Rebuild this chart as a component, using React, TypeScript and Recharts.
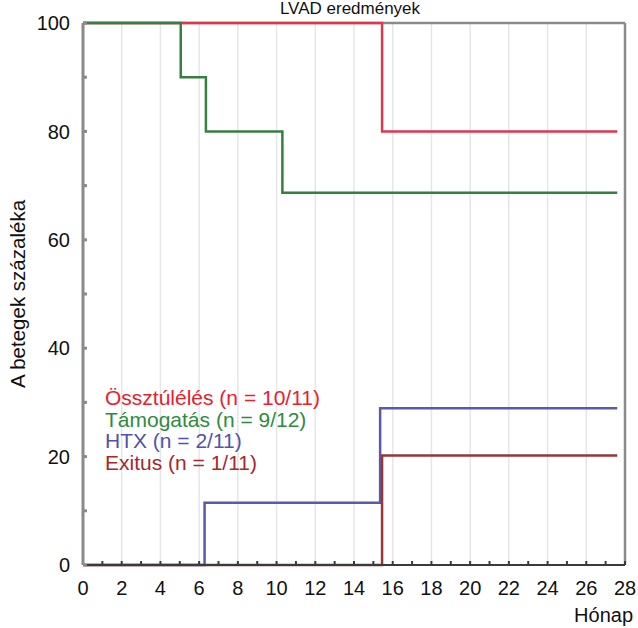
import React from 'react';
import { LineChart, Line, XAxis, YAxis, ReferenceLine } from 'recharts';

// Kaplan-Meier style step data (month, percent)
const survival = [
  { month: 0, value: 100 },
  { month: 15.45, value: 80 },
  { month: 27.6, value: 80 },
];
const support = [
  { month: 0, value: 100 },
  { month: 5.05, value: 90 },
  { month: 6.35, value: 80 },
  { month: 10.3, value: 68.7 },
  { month: 27.6, value: 68.7 },
];
const htx = [
  { month: 0, value: 0 },
  { month: 6.28, value: 11.5 },
  { month: 15.35, value: 28.9 },
  { month: 27.6, value: 28.9 },
];
const exitus = [
  { month: 0, value: 0 },
  { month: 15.45, value: 20.2 },
  { month: 27.6, value: 20.2 },
];

const xTicks = Array.from({ length: 29 }, (_, i) => i);
const yTicks = [0, 10, 20, 30, 40, 50, 60, 70, 80, 90, 100];
const gridX = [2, 4, 6, 8, 10, 12, 14, 16, 18, 20, 22, 24, 26];

const legend = [
  { label: 'Össztúlélés (n = 10/11)', color: '#e8202e' },
  { label: 'Támogatás (n = 9/12)', color: '#2e8b3e' },
  { label: 'HTX (n = 2/11)', color: '#5252ae' },
  { label: 'Exitus (n = 1/11)', color: '#a8282a' },
];

const FONT = '"Liberation Sans", Arial, sans-serif';

export default function App() {
  return (
    <div style={{ position: 'absolute', left: 0, top: 0, width: 638, height: 628, background: '#fff', fontFamily: FONT }}>
      <LineChart width={638} height={628} margin={{ top: 23, right: 13, left: 23, bottom: 33 }}>
        {gridX.map((v) => (
          <ReferenceLine key={v} x={v} stroke="#e6e6e6" strokeWidth={1.5} />
        ))}
        <ReferenceLine y={100} stroke="#8a8a8a" strokeWidth={2.5} />
        <ReferenceLine x={28} stroke="#8a8a8a" strokeWidth={2.5} />
        <XAxis
          type="number"
          dataKey="month"
          domain={[0, 28]}
          ticks={xTicks}
          interval={0}
          allowDataOverflow
          height={30}
          tickSize={-4}
          tickMargin={20}
          tickFormatter={(v: number) => (v % 2 === 0 ? String(v) : '')}
          stroke="#3a3a3a"
          strokeWidth={2}
          tick={{ fill: '#111', fontSize: 20, fontFamily: FONT }}
        />
        <YAxis
          type="number"
          domain={[0, 100]}
          ticks={yTicks}
          interval={0}
          width={60}
          tickSize={-4}
          tickMargin={17}
          tickFormatter={(v: number) => (v % 20 === 0 ? String(v) : '')}
          stroke="#8a8a8a"
          strokeWidth={3}
          tick={{ fill: '#111', fontSize: 20, fontFamily: FONT }}
        />
        <Line data={survival} dataKey="value" type="stepAfter" stroke="#e0364c" strokeWidth={2.5} dot={false} isAnimationActive={false} />
        <Line data={support} dataKey="value" type="stepAfter" stroke="#357f40" strokeWidth={2.5} dot={false} isAnimationActive={false} />
        <Line data={htx} dataKey="value" type="stepAfter" stroke="#5a5aa8" strokeWidth={2.5} dot={false} isAnimationActive={false} />
        <Line data={exitus} dataKey="value" type="stepAfter" stroke="#9c3436" strokeWidth={2.5} dot={false} isAnimationActive={false} />
      </LineChart>
      <svg width={638} height={628} style={{ position: 'absolute', left: 0, top: 0, pointerEvents: 'none' }}>
        <text x={350} y={14} textAnchor="middle" fontSize={17} fill="#111" fontFamily={FONT}>LVAD eredmények</text>
        <text x={633} y={622} textAnchor="end" fontSize={20} fill="#111" fontFamily={FONT}>Hónap</text>
        <text
          transform="translate(25,294) rotate(-90)"
          textAnchor="middle"
          fontSize={20.5}
          fill="#111"
          fontFamily={FONT}
        >
          A betegek százaléka
        </text>
        {legend.map((l, i) => (
          <text key={l.label} x={105} y={405 + i * 21.5} fontSize={21} fill={l.color} fontFamily={FONT}>
            {l.label}
          </text>
        ))}
      </svg>
    </div>
  );
}
